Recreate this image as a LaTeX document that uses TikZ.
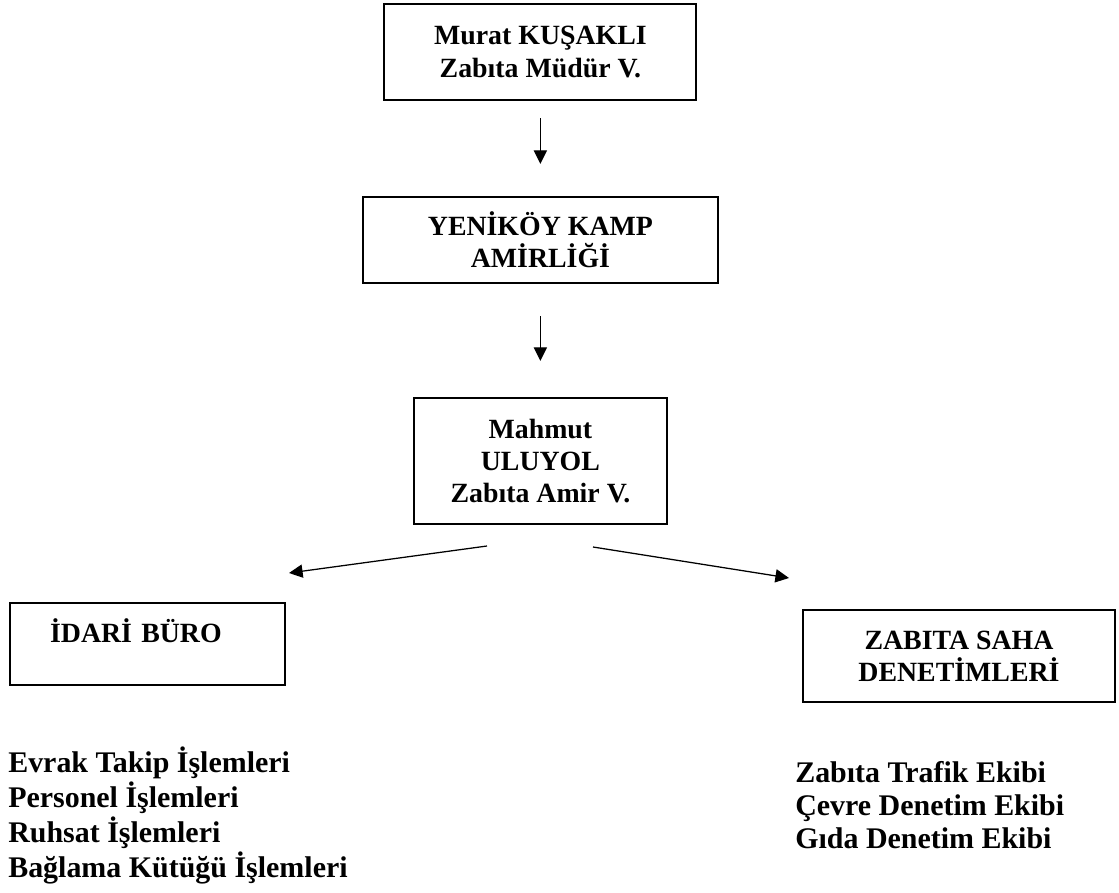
\documentclass[tikz,border=0pt]{standalone}
\usepackage{fontspec}
\setmainfont{Liberation Serif}
\usepackage{tikz}
\usetikzlibrary{arrows.meta}

\begin{document}
\begin{tikzpicture}[auto,
        box/.style={draw, line width=1.5pt, align=center, inner sep=0pt,
                font=\fontsize{19.8}{22.8}\selectfont\bfseries},
        liste/.style={align=left, inner sep=0pt, anchor=west},
        ok/.style={-{Triangle[length=0.34cm,width=0.33cm]}, line width=0.9pt}]
        \useasboundingbox (0,0) rectangle (27.975,-22.325);

        \node[box, minimum width=7.8cm, minimum height=2.4cm] (mudur) at (13.51,-1.3) {Murat KUŞAKLI\\Zabıta Müdür V.};
        \node[box, minimum width=8.875cm, minimum height=2.15cm] (kamp) at (13.51,-6.0) {YENİKÖY KAMP\\AMİRLİĞİ};
        \node[box, minimum width=6.325cm, minimum height=3.15cm] (amir) at (13.51,-11.525) {Mahmut\\ULUYOL\\Zabıta Amir V.};
        \draw[ok, shorten <=0.425cm, shorten >=0.8cm] (mudur.south) to (kamp.north);
        \draw[ok, shorten <=0.8cm, shorten >=0.9cm] (kamp.south) to (amir.north);

        \node[box, minimum width=6.875cm, minimum height=2.05cm, inner xsep=1cm, text width=4.875cm,
                align=left, text height=0.55cm, text depth=0.65cm] (idari) at (3.69,-16.1) {İDARİ BÜRO};
        \node[box, minimum width=7.8cm, minimum height=2.3cm] (saha) at (23.975,-16.4) {ZABITA SAHA\\DENETİMLERİ};
        \coordinate (l1) at (12.175,-13.65);
        \coordinate (l2) at (7.225,-14.325);
        \coordinate (r1) at (14.825,-13.675);
        \coordinate (r2) at (19.725,-14.45);
        \draw[ok] (l1) to (l2);
        \draw[ok] (r1) to (r2);

        \node[liste, font=\fontsize{21.3}{24.9}\selectfont\bfseries] (idarilist) at (0.2,-20.39)
                {Evrak Takip İşlemleri\\Personel İşlemleri\\Ruhsat İşlemleri\\Bağlama Kütüğü İşlemleri};
        \node[liste, font=\fontsize{21.3}{23.5}\selectfont\bfseries] (sahalist) at (19.875,-20.125)
                {Zabıta Trafik Ekibi\\Çevre Denetim Ekibi\\Gıda Denetim Ekibi};
\end{tikzpicture}
\end{document}
